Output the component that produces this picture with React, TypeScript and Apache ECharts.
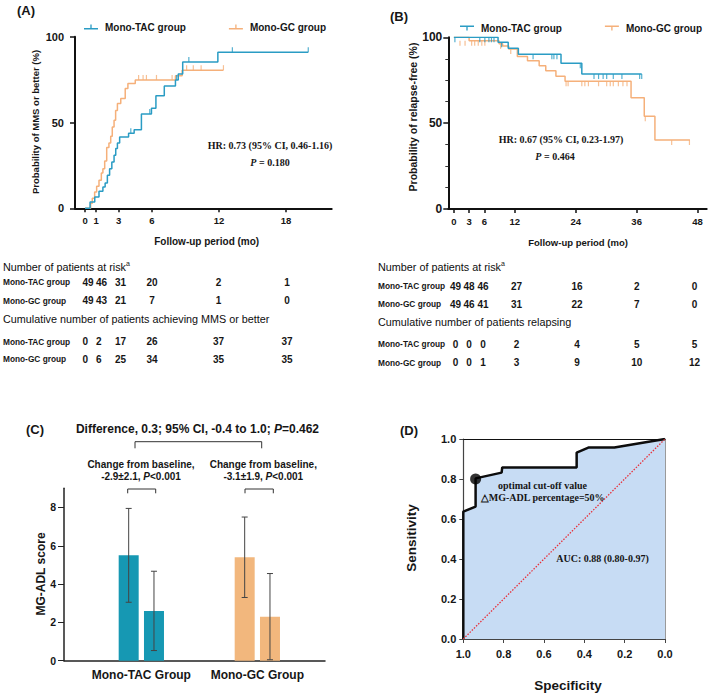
import React, { useEffect, useRef } from 'react';
import * as echarts from 'echarts';

// ---------- shared ----------
const GROUPS = ['Mono-TAC group', 'Mono-GC group'];
const COLOR_TAC = '#2A9CC4';
const COLOR_GC = '#F5B07A';
const BAR_TAC = '#1698B3';
const BAR_GC = '#F2B77D';

// ---------- Panel A: cumulative probability of MMS or better (%) ----------
const A_TICKS = [0, 1, 3, 6, 12, 18];
const A_TAC: number[][] = [
  [0, 0], [0.45, 3.7], [0.87, 6.6], [1.25, 9.9], [1.6, 12.4], [1.8, 14.8], [2.0, 19.2],
  [2.2, 23.0], [2.4, 27.0], [2.6, 30.9], [2.75, 34.8], [2.9, 38.0], [3.1, 41.5], [3.9, 43.7],
  [4.4, 45.8], [5.05, 55.0], [5.95, 58.3], [6.35, 65.6], [7.1, 71.3], [8.1, 74.8],
  [8.35, 78.3], [8.75, 85.3], [11.9, 90.9], [20.0, 90.9],
];
const A_GC: number[][] = [
  [0, 0], [0.5, 2.9], [0.65, 5.8], [0.86, 9.5], [1.04, 12.8], [1.25, 16.3], [1.46, 20.6],
  [1.6, 23.0], [1.76, 27.6], [1.94, 35.4], [2.14, 38.0], [2.3, 42.0], [2.44, 47.4],
  [2.6, 51.3], [2.74, 57.0], [2.9, 61.0], [3.2, 64.0], [3.6, 69.8], [3.84, 72.7],
  [4.5, 74.8], [8.1, 77.3], [8.7, 80.5], [12.4, 80.5],
];
const A_TAC_CENSOR: number[][] = [[4.1, 43.7], [5.8, 55.0], [8.2, 74.8], [9.3, 85.3], [13.2, 90.9], [20.0, 90.9]];
const A_GC_CENSOR: number[][] = [
  [4.8, 74.8], [5.2, 74.8], [5.5, 74.8], [6.4, 74.8], [7.8, 74.8],
  [9.1, 80.5], [9.7, 80.5], [10.4, 80.5], [12.4, 80.5],
];
const A_RISK_TAC = [49, 46, 31, 20, 2, 1];
const A_RISK_GC = [49, 43, 21, 7, 1, 0];
const A_CUM_TAC = [0, 2, 17, 26, 37, 37];
const A_CUM_GC = [0, 6, 25, 34, 35, 35];

// ---------- Panel B: relapse-free probability (%) ----------
const B_TICKS = [0, 3, 6, 12, 24, 36, 48];
const B_TAC: number[][] = [
  [0, 100], [8.7, 97.1], [10.7, 93.6], [12.7, 90.1], [21.1, 84.9], [25.2, 78.6], [37.0, 78.6],
];
const B_GC: number[][] = [
  [0, 100], [3.0, 98.0], [8.9, 96.2], [9.6, 95.0], [10.8, 93.2], [12.5, 88.8], [14.5, 86.4],
  [16.8, 83.5], [18.1, 80.5], [20.1, 77.3], [21.9, 74.4], [34.9, 64.8], [37.5, 54.0],
  [39.6, 40.2], [46.5, 40.2],
];
const B_TAC_CENSOR: number[][] = [
  [0.2, 100], [5.1, 100], [6.1, 100], [6.9, 100], [7.4, 100], [7.9, 100],
  [9.4, 97.1], [15.6, 90.1], [19.3, 90.1], [19.7, 90.1], [20.3, 90.1], [24.9, 84.9],
  [27.6, 78.6], [28.5, 78.6], [29.4, 78.6], [30.1, 78.6], [31.4, 78.6], [33.1, 78.6], [36.6, 78.6], [37.0, 78.6],
];
const B_GC_CENSOR: number[][] = [
  [1.2, 98.0], [2.2, 98.0], [3.5, 98.0], [4.1, 98.0], [4.8, 98.0], [5.5, 98.0], [6.1, 98.0],
  [9.2, 96.2], [11.2, 93.2], [22.1, 74.4], [22.5, 74.4], [25.2, 74.4], [25.8, 74.4],
  [26.5, 74.4], [28.5, 74.4], [30.1, 74.4], [30.8, 74.4], [31.4, 74.4], [32.4, 74.4],
  [33.3, 74.4], [34.1, 74.4], [37.7, 54.0], [42.9, 40.2], [46.4, 40.2],
];
const B_RISK_TAC = [49, 48, 46, 27, 16, 2, 0];
const B_RISK_GC = [49, 46, 41, 31, 22, 7, 0];
const B_REL_TAC = [0, 0, 0, 2, 4, 5, 5];
const B_REL_GC = [0, 0, 1, 3, 9, 10, 12];

// ---------- Panel C: MG-ADL score ----------
const C_GROUPS = ['Mono-TAC Group', 'Mono-GC Group'];
const C_BASELINE = [5.5, 5.4];
const C_BASELINE_SD = [2.45, 2.1];
const C_FOLLOW = [2.6, 2.3];
const C_FOLLOW_SD = [2.07, 2.25];
const C_TICKS = [0, 2, 4, 6, 8];

// ---------- Panel D: ROC ----------
const D_ROC: number[][] = [
  [1, 0], [1, 0.637], [0.939, 0.662], [0.939, 0.803], [0.81, 0.832], [0.807, 0.858],
  [0.438, 0.858], [0.438, 0.932], [0.38, 0.957], [0.251, 0.957], [0, 1],
];
const D_DIAG: number[][] = [[1, 0], [0, 1]];
const D_CUTOFF: number[] = [0.939, 0.8];

// ---------- layout (positions only) ----------
const SANS = 'Arial, "Liberation Sans", sans-serif';
const SERIF = '"Times New Roman", "Liberation Serif", serif';
const INK = '#161616';
const C_POS = [8, 20]; // group centres on panel C's [0, 27] x scale
const BAR_W = 20;
const BAR_GAP = 5.3;
const A_COL_X = [82.5, 96, 115, 152, 218.5, 287];
const A_COL_ALIGN = ['left', 'left', 'left', 'center', 'center', 'center'];
const B_COL_X = [455.5, 469, 483, 516.5, 577, 636.7, 694.5];

function txt(x: number, y: number, text: string, o: any = {}) {
  const { rotation, ...style } = o;
  return {
    type: 'text', x, y, rotation: rotation || 0, silent: true, z: 50,
    style: {
      text, fill: INK, fontFamily: SANS, fontSize: 10, fontWeight: 'normal',
      align: 'center', verticalAlign: 'middle', ...style,
    },
  };
}

function tableRow(label: string, y: number, vals: number[], labelX: number, colX: number[], align?: string[]) {
  const out: any[] = [txt(labelX, y, label, { align: 'left', fontSize: 8.3, fontWeight: 'bold' })];
  vals.forEach((v, i) => {
    out.push(txt(colX[i], y, String(v), { align: align ? align[i] : 'center', fontSize: 10, fontWeight: 'bold' }));
  });
  return out;
}

function header(x: number, y: number, text: string, sup: boolean) {
  return txt(x, y, sup ? text + '{s|a}' : text, {
    align: 'left', fontSize: 10.8, lineHeight: 13, fill: '#0e0e0e',
    rich: { s: { fontSize: 7, fontFamily: SANS, fill: INK, verticalAlign: 'top', lineHeight: 7 } },
  });
}

function bracket(x1: number, x2: number, yTop: number, yBot: number) {
  return {
    type: 'polyline', silent: true, z: 50,
    shape: { points: [[x1, yBot], [x1, yTop], [x2, yTop], [x2, yBot]] },
    style: { stroke: '#333', lineWidth: 1, fill: null },
  };
}

const ICON_UP = 'path://M0,5H16V6.5H0Z M7.25,1H8.75V5H7.25Z';
const ICON_DOWN = 'path://M0,1H16V2.5H0Z M7.25,2.5H8.75V6.5H7.25Z';

function valueAxis(extra: any) {
  return {
    type: 'value',
    splitLine: { show: false },
    axisLine: { show: true, onZero: false, lineStyle: { color: '#111', width: 2 } },
    axisTick: { show: true, inside: false, length: 4, lineStyle: { color: '#111', width: 1.5 } },
    axisLabel: { color: INK, fontFamily: SANS, fontWeight: 'bold', fontSize: 10 },
    ...extra,
  };
}

function buildOption(): any {
  const bold = { fontWeight: 'bold' };
  const italicP = (size: number, family: string) => ({
    i: { fontFamily: family, fontSize: size, fontWeight: 'bold', fontStyle: 'italic', fill: INK },
  });
  const graphics: any[] = [
    txt(26, 10, '(A)', { fontSize: 13, ...bold }),
    txt(399, 16, '(B)', { fontSize: 13, ...bold }),
    txt(35, 429, '(C)', { fontSize: 13, ...bold }),
    txt(409, 430, '(D)', { fontSize: 13, ...bold }),
    // axis titles
    txt(35.5, 122, 'Probability of MMS or better (%)', { rotation: Math.PI / 2, fontSize: 9.5, ...bold }),
    txt(412.5, 117, 'Probability of relapse-free (%)', { rotation: Math.PI / 2, fontSize: 10.5, ...bold }),
    txt(206.7, 241.7, 'Follow-up period (mo)', { fontSize: 10, ...bold }),
    txt(578, 242, 'Follow-up period (mo)', { fontSize: 9.5, ...bold }),
    txt(40.5, 574, 'MG-ADL score', { rotation: Math.PI / 2, fontSize: 12, ...bold }),
    txt(411.7, 538, 'Sensitivity', { rotation: Math.PI / 2, fontSize: 13.5, ...bold }),
    txt(568, 685, 'Specificity', { fontSize: 13.5, ...bold }),
    // HR annotations
    txt(270, 145.7, 'HR: 0.73 (95% CI, 0.46-1.16)', { fontFamily: SERIF, fontSize: 10, ...bold }),
    txt(270, 162, '{i|P} = 0.180', { fontFamily: SERIF, fontSize: 10, ...bold, rich: italicP(10, SERIF) }),
    txt(561, 139.3, 'HR: 0.67 (95% CI, 0.23-1.97)', { fontFamily: SERIF, fontSize: 10, ...bold }),
    txt(555, 156, '{i|P} = 0.464', { fontFamily: SERIF, fontSize: 10, ...bold, rich: italicP(10, SERIF) }),
    // tables A
    header(3, 266.5, 'Number of patients at risk', true),
    ...tableRow(GROUPS[0], 282.3, A_RISK_TAC, 3, A_COL_X, A_COL_ALIGN),
    ...tableRow(GROUPS[1], 300.7, A_RISK_GC, 3, A_COL_X, A_COL_ALIGN),
    header(3, 319.3, 'Cumulative number of patients achieving MMS or better', false),
    ...tableRow(GROUPS[0], 341.7, A_CUM_TAC, 3, A_COL_X, A_COL_ALIGN),
    ...tableRow(GROUPS[1], 359, A_CUM_GC, 3, A_COL_X, A_COL_ALIGN),
    // tables B
    header(378, 266.7, 'Number of patients at risk', true),
    ...tableRow(GROUPS[0], 286, B_RISK_TAC, 378, B_COL_X),
    ...tableRow(GROUPS[1], 304, B_RISK_GC, 378, B_COL_X),
    header(378, 322.3, 'Cumulative number of patients relapsing', false),
    ...tableRow(GROUPS[0], 344.3, B_REL_TAC, 378, B_COL_X),
    ...tableRow(GROUPS[1], 362.7, B_REL_GC, 378, B_COL_X),
    // panel C annotations
    txt(197.5, 429, 'Difference, 0.3; 95% CI, -0.4 to 1.0; {i|P}=0.462', {
      fontSize: 12, ...bold, rich: italicP(12, SANS),
    }),
    bracket(135, 261.7, 441.7, 448.3),
    txt(141, 464, 'Change from baseline,', { fontSize: 10, ...bold }),
    txt(141, 476.7, '-2.9±2.1, {i|P}<0.001', { fontSize: 10, ...bold, rich: italicP(10, SANS) }),
    txt(263.3, 464, 'Change from baseline,', { fontSize: 10, ...bold }),
    txt(263.3, 476.7, '-3.1±1.9, {i|P}<0.001', { fontSize: 10, ...bold, rich: italicP(10, SANS) }),
    bracket(127.7, 155.7, 489, 493.3),
    bracket(245, 273.3, 489, 493.3),
    // panel D annotations
    txt(542.5, 485.7, 'optimal cut-off value', { fontFamily: SERIF, fontSize: 10, ...bold }),
    txt(542.7, 497.3, '\u25B3MG-ADL percentage=50%', { fontFamily: SERIF, fontSize: 10, ...bold }),
    txt(602.5, 558.3, 'AUC: 0.88 (0.80-0.97)', { fontFamily: SERIF, fontSize: 10, ...bold }),
  ];

  const kmLine = (name: string, data: number[][], color: string, xi: number) => ({
    type: 'line', name, xAxisIndex: xi, yAxisIndex: xi, data, step: 'end',
    symbol: 'none', showSymbol: false, silent: true,
    lineStyle: { color, width: 1.5 }, itemStyle: { color }, z: 3,
  });
  const censor = (data: number[][], color: string, xi: number, up: boolean) => ({
    type: 'scatter', xAxisIndex: xi, yAxisIndex: xi, data, symbol: 'rect',
    symbolSize: [1.2, 5], symbolOffset: [0, up ? -2.5 : 2.5], silent: true,
    itemStyle: { color }, z: 4,
  });

  const offset = (BAR_W + BAR_GAP) / 2;
  const errData: number[][] = [];
  C_POS.forEach((x, i) => {
    errData.push([x, C_BASELINE[i] - C_BASELINE_SD[i], C_BASELINE[i] + C_BASELINE_SD[i], -offset]);
    errData.push([x, C_FOLLOW[i] - C_FOLLOW_SD[i], C_FOLLOW[i] + C_FOLLOW_SD[i], offset]);
  });
  const barColors = [BAR_TAC, BAR_GC];

  return {
    animation: false,
    backgroundColor: '#ffffff',
    textStyle: { fontFamily: SANS },
    grid: [
      { left: 75, top: 36.7, width: 256.7, height: 171.6, outerBoundsMode: 'none' },
      { left: 448.3, top: 37.3, width: 258.4, height: 171.7, outerBoundsMode: 'none' },
      { left: 64, top: 488.3, width: 261, height: 172.4, outerBoundsMode: 'none' },
      { left: 463.3, top: 439, width: 201.7, height: 200, outerBoundsMode: 'none' },
    ],
    legend: [
      {
        left: 79, top: 17, itemWidth: 14, itemHeight: 8, itemGap: 43, icon: ICON_UP,
        selectedMode: false, data: GROUPS, itemStyle: { borderWidth: 0 },
        textStyle: { fontSize: 10, fontWeight: 'bold', color: INK, fontFamily: SANS, padding: [0, 0, 0, 2] },
      },
      {
        left: 455, top: 18, itemWidth: 14, itemHeight: 8, itemGap: 43, icon: ICON_DOWN,
        selectedMode: false, data: GROUPS, itemStyle: { borderWidth: 0 },
        textStyle: { fontSize: 10, fontWeight: 'bold', color: INK, fontFamily: SANS, padding: [0, 0, 0, 2] },
      },
    ],
    xAxis: [
      valueAxis({
        gridIndex: 0, min: -0.9, max: 22.1,
        axisTick: { show: true, customValues: A_TICKS, length: 4, lineStyle: { color: '#111', width: 1.5 } },
        axisLabel: { customValues: A_TICKS, margin: 7, color: INK, fontFamily: SANS, fontWeight: 'bold', fontSize: 9.5 },
      }),
      valueAxis({
        gridIndex: 1, min: -1.1, max: 49.8,
        axisTick: { show: true, customValues: B_TICKS, length: 4, lineStyle: { color: '#111', width: 1.5 } },
        axisLabel: { customValues: B_TICKS, margin: 7, color: INK, fontFamily: SANS, fontWeight: 'bold', fontSize: 9.5 },
      }),
      valueAxis({
        gridIndex: 2, min: 0, max: 27,
        axisLine: { show: true, onZero: false, lineStyle: { color: '#222', width: 1.5 } },
        axisTick: { show: false },
        axisLabel: {
          customValues: C_POS, margin: 8, color: INK, fontFamily: SANS, fontWeight: 'bold', fontSize: 12,
          formatter: (v: number) => C_GROUPS[C_POS.indexOf(v)] ?? '',
        },
      }),
      valueAxis({
        gridIndex: 3, min: 0, max: 1, interval: 0.2, inverse: true,
        axisLine: { show: true, onZero: false, lineStyle: { color: '#444', width: 1.2 } },
        axisTick: { show: true, length: 4, lineStyle: { color: '#444', width: 1 } },
        axisLabel: {
          margin: 9, color: INK, fontFamily: SANS, fontWeight: 'bold', fontSize: 11,
          formatter: (v: number) => v.toFixed(1),
        },
      }),
      {
        type: 'value', gridIndex: 3, position: 'top', min: 0, max: 1,
        axisLine: { show: true, onZero: false, lineStyle: { color: '#111', width: 1.2 } },
        axisTick: { show: false }, axisLabel: { show: false }, splitLine: { show: false },
      },
    ],
    yAxis: [
      valueAxis({
        gridIndex: 0, min: 0, max: 100,
        axisTick: { show: true, customValues: [0, 50, 100], length: 5, lineStyle: { color: '#111', width: 1.5 } },
        axisLabel: { customValues: [0, 50, 100], margin: 11, color: INK, fontFamily: SANS, fontWeight: 'bold', fontSize: 11 },
      }),
      valueAxis({
        gridIndex: 1, min: 0, max: 100, interval: 50,
        axisTick: { show: true, length: 5, lineStyle: { color: '#111', width: 1.5 } },
        minorTick: { show: true, splitNumber: 4, length: 3, lineStyle: { color: '#333', width: 1 } },
        axisLabel: { margin: 6, color: INK, fontFamily: SANS, fontWeight: 'bold', fontSize: 12 },
      }),
      valueAxis({
        gridIndex: 2, min: 0, max: 9,
        axisLine: { show: true, onZero: false, lineStyle: { color: '#222', width: 1.5 } },
        axisTick: { show: true, customValues: C_TICKS, length: 6, lineStyle: { color: '#222', width: 1 } },
        axisLabel: { customValues: C_TICKS, margin: 8, color: INK, fontFamily: SANS, fontWeight: 'bold', fontSize: 10.5 },
      }),
      valueAxis({
        gridIndex: 3, min: 0, max: 1, interval: 0.2,
        axisLine: { show: true, onZero: false, lineStyle: { color: '#444', width: 1.2 } },
        axisTick: { show: true, length: 4, lineStyle: { color: '#444', width: 1 } },
        axisLabel: {
          margin: 7, color: INK, fontFamily: SANS, fontWeight: 'bold', fontSize: 11,
          formatter: (v: number) => v.toFixed(1),
        },
      }),
      {
        type: 'value', gridIndex: 3, position: 'right', min: 0, max: 1,
        axisLine: { show: true, onZero: false, lineStyle: { color: '#9a9a9a', width: 1 } },
        axisTick: { show: false }, axisLabel: { show: false }, splitLine: { show: false },
      },
    ],
    series: [
      // A
      kmLine(GROUPS[1], A_GC, COLOR_GC, 0),
      kmLine(GROUPS[0], A_TAC, COLOR_TAC, 0),
      censor(A_GC_CENSOR, COLOR_GC, 0, true),
      censor(A_TAC_CENSOR, COLOR_TAC, 0, true),
      // B
      kmLine(GROUPS[1], B_GC, COLOR_GC, 1),
      kmLine(GROUPS[0], B_TAC, COLOR_TAC, 1),
      censor(B_GC_CENSOR, COLOR_GC, 1, false),
      censor(B_TAC_CENSOR, COLOR_TAC, 1, false),
      // C
      {
        type: 'bar', name: 'Baseline', xAxisIndex: 2, yAxisIndex: 2, barWidth: BAR_W,
        barGap: (BAR_GAP / BAR_W) * 100 + '%', silent: true,
        data: C_POS.map((x, i) => ({ value: [x, C_BASELINE[i]], itemStyle: { color: barColors[i] } })),
      },
      {
        type: 'bar', name: 'After treatment', xAxisIndex: 2, yAxisIndex: 2, barWidth: BAR_W,
        barGap: (BAR_GAP / BAR_W) * 100 + '%', silent: true,
        data: C_POS.map((x, i) => ({ value: [x, C_FOLLOW[i]], itemStyle: { color: barColors[i] } })),
      },
      {
        type: 'custom', xAxisIndex: 2, yAxisIndex: 2, silent: true, z: 5,
        data: errData,
        renderItem: (_p: any, api: any) => {
          const x = api.value(0), lo = api.value(1), hi = api.value(2), off = api.value(3);
          const top = api.coord([x, hi]);
          const bot = api.coord([x, lo]);
          const px = top[0] + off;
          const st = { stroke: '#444', lineWidth: 1 };
          return {
            type: 'group',
            children: [
              { type: 'line', shape: { x1: px, y1: top[1], x2: px, y2: bot[1] }, style: st },
              { type: 'line', shape: { x1: px - 3, y1: top[1], x2: px + 3, y2: top[1] }, style: st },
              { type: 'line', shape: { x1: px - 3, y1: bot[1], x2: px + 3, y2: bot[1] }, style: st },
            ],
          };
        },
      },
      // D
      {
        type: 'line', xAxisIndex: 3, yAxisIndex: 3, data: D_ROC, symbol: 'none', silent: true,
        lineStyle: { color: '#0d0d0d', width: 2.5 }, areaStyle: { color: '#C7DCF4', opacity: 1 }, z: 2,
      },
      {
        type: 'line', xAxisIndex: 3, yAxisIndex: 3, data: D_DIAG, symbol: 'none', silent: true,
        lineStyle: { color: '#E8303A', width: 1.3, type: [1.5, 1.5] }, z: 3,
      },
      {
        type: 'scatter', xAxisIndex: 3, yAxisIndex: 3, data: [D_CUTOFF], symbolSize: 11, silent: true,
        itemStyle: { color: '#000' }, z: 4,
      },
    ],
    graphic: { elements: graphics },
  };
}

export default function App() {
  const ref = useRef<HTMLDivElement>(null);
  useEffect(() => {
    document.body.style.margin = '0';
    const chart = echarts.init(ref.current!, null, { renderer: 'svg' });
    chart.setOption(buildOption());
    return () => chart.dispose();
  }, []);
  return <div ref={ref} style={{ width: 709, height: 694 }} />;
}
